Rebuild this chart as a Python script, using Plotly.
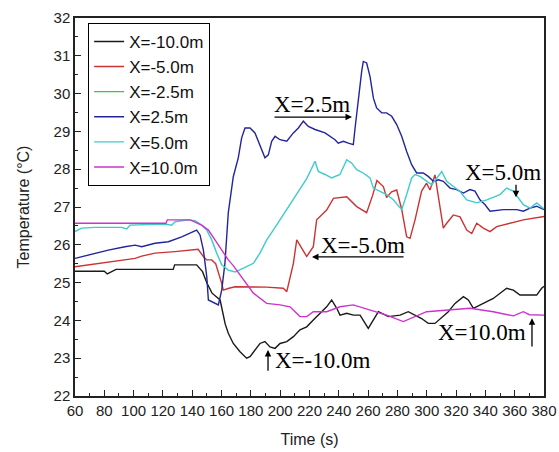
import plotly.graph_objects as go

# ---------------- data ----------------
series_names = ["X=-10.0m", "X=-5.0m", "X=-2.5m", "X=2.5m", "X=5.0m", "X=10.0m"]

t_m10 = [60, 80, 82, 88, 127, 128, 143, 147, 150, 153.5, 159, 161, 162.5, 164.6, 168, 172.6, 177.1,
         179.4, 182.8, 186.2, 189.6, 193, 196.5, 199.9, 204.5, 209, 213.5, 218.1, 222.6, 227.2,
         231.7, 235.1, 238.6, 240.8, 245.4, 249.9, 254.5, 260.1, 267, 273.8, 281.8, 287.4, 296.5,
         301, 305.6, 314.7, 319.3, 325, 328.4, 331.8, 336.3, 345.4, 354.5, 359.1, 363.6, 375,
         378.4, 380]
T_m10 = [25.3, 25.3, 25.23, 25.35, 25.35, 25.47, 25.47, 25.29, 24.99, 24.72, 24.54, 24.15, 23.9,
         23.66, 23.39, 23.17, 23.0, 23.04, 23.22, 23.39, 23.44, 23.30, 23.26, 23.39, 23.44, 23.57,
         23.75, 23.83, 24.01, 24.19, 24.36, 24.54, 24.32, 24.14, 24.19, 24.14, 24.14, 23.79, 24.23,
         24.10, 24.14, 24.23, 24.05, 23.92, 23.92, 24.23, 24.45, 24.63, 24.54, 24.32, 24.41, 24.58,
         24.85, 24.80, 24.67, 24.67, 24.85, 24.9]

t_m5 = [60, 82.7, 101, 105.5, 114.6, 128.2, 141.9, 144, 147.6, 149.9, 153.3, 156, 160.1, 161.2,
        165, 169.2, 190.8, 202.1, 204.5, 209, 211.3, 213.5, 218.1, 222.6, 224.9, 231.7, 236.3,
        245.4, 252.2, 259, 263, 266, 270.4, 272.6, 276, 279.5, 283, 286.3, 288.6, 292, 296.5,
        299.9, 302.2, 305.6, 308, 311.3, 313.6, 318.1, 322.7, 327.3, 330.7, 334.1, 338.6, 343.2,
        347.7, 356.8, 365.9, 380]
T_m5 = [25.42, 25.55, 25.64, 25.70, 25.78, 25.82, 25.88, 25.88, 25.69, 25.6, 25.6, 25.5, 24.98,
        24.80, 24.85, 24.89, 24.88, 24.85, 24.76, 25.51, 26.13, 25.99, 25.69, 25.95, 26.66, 26.92,
        27.23, 27.27, 27.01, 26.85, 27.3, 27.7, 27.54, 27.25, 27.4, 27.45, 26.92, 26.21, 26.17,
        26.66, 27.42, 27.63, 27.45, 27.85, 27.3, 26.44, 26.57, 26.79, 26.74, 26.39, 26.30, 26.57,
        26.44, 26.35, 26.48, 26.57, 26.66, 26.75]

# X=-2.5m appears only in the legend (no visible curve in the reference)
t_m25 = [None]
T_m25 = [None]

t_p25 = [60, 73.6, 82.7, 94.1, 101, 105.5, 114.6, 123.7, 132.8, 143, 145.3, 147.6, 149.9, 151,
         157.8, 160.1, 162.3, 164.6, 168, 171.4, 173.7, 176, 179.4, 182.8, 186.2, 189.6, 191.9,
         194.2, 196.5, 199.9, 204.5, 209, 212.4, 215.8, 219.2, 223.8, 230.6, 234, 237.4, 239.6,
         243.1, 246.5, 249.9, 251.1, 253.3, 255.6, 256.7, 259, 261.3, 263.6, 265.8, 269.3, 272.6,
         276.1, 279.5, 282.9, 286.3, 289.7, 293.1, 297.6, 301, 304.5, 307.9, 311.3, 315.9, 320.4,
         325, 329.5, 332.9, 336.3, 339.8, 343.2, 352.3, 361.4, 365.9, 370.5, 375, 380]
T_p25 = [25.64, 25.78, 25.86, 25.95, 25.99, 25.95, 26.04, 26.08, 26.21, 26.39, 26.26, 25.86, 25.16,
         24.54, 24.41, 24.80, 25.51, 26.85, 27.8, 28.30, 28.83, 29.09, 29.09, 28.96, 28.65, 28.30,
         28.38, 28.74, 28.87, 28.78, 28.74, 28.96, 29.09, 29.27, 29.13, 29.05, 28.96, 28.87, 28.78,
         28.69, 28.74, 28.69, 28.65, 29.09, 29.88, 30.59, 30.85, 30.81, 30.45, 29.88, 29.62, 29.49,
         29.49, 29.40, 29.18, 28.87, 28.47, 28.12, 27.90, 27.90, 27.81, 27.68, 27.72, 27.68, 27.50,
         27.46, 27.37, 27.46, 27.42, 27.19, 27.06, 26.89, 26.93, 26.93, 26.89, 26.97, 27.02, 26.93]

t_p5 = [60, 64.5, 73.6, 91.8, 95.3, 97.5, 121.4, 126, 128.2, 137.3, 141.9, 146.4, 149.9, 153.3,
        156.7, 160.1, 164.6, 169.2, 174.9, 181.7, 186.2, 190.8, 195.3, 199.9, 204.5, 209, 213.5,
        218.1, 223.8, 226, 230.6, 235.1, 240.8, 245.4, 248.8, 252.2, 256.7, 261.3, 263.6, 272.6,
        277.2, 282.9, 286.3, 289.7, 292, 295.4, 303.4, 310.2, 313.6, 322.7, 327.3, 334.1, 340.9,
        350, 354.5, 359.1, 365.9, 370.5, 375, 380]
T_p5 = [26.35, 26.44, 26.46, 26.46, 26.42, 26.52, 26.55, 26.52, 26.61, 26.66, 26.64, 26.52, 26.39,
        26.13, 25.78, 25.47, 25.33, 25.28, 25.38, 25.51, 25.78, 26.13, 26.39, 26.66, 26.92, 27.19,
        27.45, 27.75, 28.21, 27.94, 27.86, 27.77, 27.86, 28.25, 28.16, 27.99, 27.90, 27.77, 27.50,
        27.33, 27.19, 26.93, 27.33, 27.77, 27.86, 27.81, 27.59, 27.94, 27.68, 27.41, 27.19, 27.11,
        27.19, 27.33, 27.50, 27.42, 27.06, 26.97, 27.11, 26.95]

t_p10 = [60, 122, 123, 138.5, 146.4, 151, 155.5, 160.1, 164.6, 168, 174.9, 181.7, 190.8, 199.9,
         206.7, 213.5, 218.1, 222.6, 231.7, 240.8, 249.9, 261.3, 272.6, 284, 299.9, 329.5, 345.4,
         359.1, 365.9, 370, 380]
T_p10 = [26.57, 26.57, 26.66, 26.66, 26.52, 26.39, 26.13, 25.86, 25.6, 25.45, 25.07, 24.72, 24.45,
         24.41, 24.36, 24.10, 24.10, 24.23, 24.23, 24.36, 24.41, 24.28, 24.14, 23.97, 24.23, 24.32,
         24.23, 24.12, 24.23, 24.15, 24.14]

x_ticks = list(range(60, 381, 20))
y_ticks = list(range(22, 33, 1))

colors = ["#1a1a1a", "#cc3333", "#33cc33", "#24249c", "#3ccccc", "#cc33cc"]
xs = [t_m10, t_m5, t_m25, t_p25, t_p5, t_p10]
ys = [T_m10, T_m5, T_m25, T_p25, T_p5, T_p10]

fig = go.Figure()
for name, c, x, y in zip(series_names, colors, xs, ys):
    fig.add_trace(go.Scatter(x=x, y=y, mode="lines", name=name,
                             line=dict(color=c, width=1.4), showlegend=True))

serif = "Liberation Serif, Times New Roman, serif"
ann_font = dict(family=serif, size=23, color="black")

annotations = [
    dict(x=221.7, y=29.70, text="X=2.5m"),
    dict(x=352.0, y=27.90, text="X=5.0m"),
    dict(x=256.5, y=25.99, text="X=-5.0m"),
    dict(x=229.2, y=22.95, text="X=-10.0m"),
    dict(x=337.7, y=23.67, text="X=10.0m"),
]
annotations = [dict(a, xref="x", yref="y", showarrow=False, font=ann_font) for a in annotations]

arrows = [
    (249.0, 29.38, 195.1, 29.38),
    (360.9, 27.26, 360.9, 27.63),
    (221.7, 25.68, 285.2, 25.68),
    (191.7, 23.22, 191.7, 22.63),
    (371.8, 24.06, 371.8, 23.27),
]
for hx, hy, tx, ty in arrows:
    annotations.append(dict(x=hx, y=hy, ax=tx, ay=ty, xref="x", yref="y", axref="x", ayref="y",
                            text="", showarrow=True, arrowhead=2, arrowsize=1, arrowwidth=1.3,
                            arrowcolor="black"))

fig.update_layout(
    width=559, height=452,
    margin=dict(l=75, r=15, t=18, b=56),
    paper_bgcolor="white", plot_bgcolor="white",
    font=dict(family="Arial, Liberation Sans, sans-serif", color="#222"),
    legend=dict(x=0.028, y=0.987, xanchor="left", yanchor="top",
                bordercolor="black", borderwidth=1, bgcolor="white",
                font=dict(size=17, family="Arial, Liberation Sans, sans-serif", color="#111"),
                tracegroupgap=0),
    annotations=annotations,
)

fig.update_xaxes(range=[60, 380], tickvals=x_ticks, ticktext=[str(v) for v in x_ticks],
                 ticks="inside", ticklen=6, tickwidth=1, tickcolor="#222",
                 minor=dict(ticks="inside", ticklen=3, dtick=10, tickcolor="#222"),
                 showline=True, linecolor="#222", linewidth=1.5, mirror=True,
                 showgrid=False, zeroline=False, tickfont=dict(size=15), automargin=False,
                 title=dict(text="Time (s)", font=dict(size=16), standoff=16))
fig.update_yaxes(range=[22, 32], tickvals=y_ticks, ticktext=[str(v) for v in y_ticks],
                 ticks="inside", ticklen=6, tickwidth=1, tickcolor="#222",
                 minor=dict(ticks="inside", ticklen=3, dtick=0.5, tickcolor="#222"),
                 showline=True, linecolor="#222", linewidth=1.5, mirror=True,
                 showgrid=False, zeroline=False, tickfont=dict(size=15), automargin=False,
                 title=dict(text="Temperature (°C)", font=dict(size=16), standoff=20))

fig.write_html("out.html")
